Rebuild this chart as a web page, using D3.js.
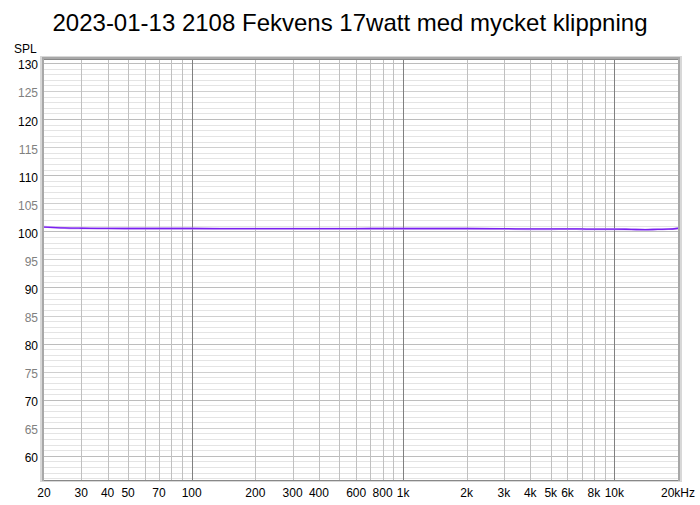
<!DOCTYPE html>
<html><head><meta charset="utf-8">
<script src="https://cdn.jsdelivr.net/npm/d3@7"></script>
<style>body{margin:0;background:#fff;}svg{display:block;font-family:"Liberation Sans",Arial,sans-serif;}</style>
</head><body>
<script>
const title = "2023-01-13 2108 Fekvens 17watt med mycket klippning";
const freqs = [20,25,30,40,50,70,100,150,200,300,500,700,1000,1500,2000,3000,4000,5000,6000,7000,8000,9000,10000,12000,14000,16000,18000,20000];
const splMain = [100.75,100.6,100.55,100.52,100.5,100.5,100.5,100.48,100.48,100.48,100.48,100.5,100.5,100.5,100.5,100.48,100.42,100.42,100.45,100.42,100.38,100.38,100.4,100.35,100.3,100.35,100.38,100.55];
const splLight = [100.8,100.6,100.55,100.5,100.5,100.5,100.5,100.45,100.45,100.46,100.46,100.48,100.48,100.45,100.45,100.4,100.38,100.38,100.42,100.38,100.35,100.35,100.38,100.32,100.3,100.38,100.4,100.5];
const xTicks = [20,30,40,50,70,100,200,300,400,600,800,1000,2000,3000,4000,5000,6000,8000,10000,20000];
const xTickLabels = ["20","30","40","50","70","100","200","300","400","600","800","1k","2k","3k","4k","5k","6k","8k","10k","20kHz"];
const yTicks = [60,65,70,75,80,85,90,95,100,105,110,115,120,125,130];

const W=700,H=505;
const L=44,R=678,T=59,B=480;
const svg=d3.select("body").append("svg").attr("width",W).attr("height",H);
const x=d3.scaleLog().domain([20,20000]).range([L,R]);
const y=d3.scaleLinear().domain([55.7,130.7]).range([B,T]);

svg.append("text").attr("x",350).attr("y",31).attr("text-anchor","middle")
  .attr("font-size",24).attr("fill","#000").text(title);
svg.append("text").attr("x",14).attr("y",53).attr("font-size",12).attr("fill","#000").text("SPL");

// frame shadow
svg.append("rect").attr("x",L-4).attr("y",T-3).attr("width",R-L+8).attr("height",B-T+5).attr("fill","#d8d8d8");
svg.append("rect").attr("x",L-2).attr("y",T-2).attr("width",R-L+4).attr("height",B-T+3).attr("fill","#a8a8a8");
svg.append("rect").attr("x",L).attr("y",T).attr("width",R-L).attr("height",B-T).attr("fill","#fff");

const g=svg.append("g");
// horizontal grid every 1 dB
const hLines=d3.range(56,131,1);
g.selectAll("line.h").data(hLines).enter().append("line")
  .attr("x1",L).attr("x2",R).attr("y1",d=>Math.round(y(d))+0.5).attr("y2",d=>Math.round(y(d))+0.5)
  .attr("stroke",d=>d%10===0?"#bdbdbd":(d%5===0?"#cfcfcf":"#e4e4e4")).attr("stroke-width",1);
// vertical grid
const vLines=[];
[10,100,1000,10000].forEach(dec=>{for(let k=1;k<10;k++){const f=dec*k;if(f>20&&f<20000)vLines.push(f);}});
g.selectAll("line.v").data(vLines).enter().append("line")
  .attr("y1",T).attr("y2",B).attr("x1",d=>Math.round(x(d))+0.5).attr("x2",d=>Math.round(x(d))+0.5)
  .attr("stroke",d=>[100,1000,10000].includes(d)?"#808080":"#c0c0c0").attr("stroke-width",1);
// top/bottom borders
svg.append("line").attr("x1",L).attr("x2",R).attr("y1",T+0.5).attr("y2",T+0.5).attr("stroke","#888");
svg.append("line").attr("x1",L).attr("x2",R).attr("y1",B+0.5).attr("y2",B+0.5).attr("stroke","#888");

// series
const line=d3.line().x(d=>x(d[0])).y(d=>y(d[1])).curve(d3.curveMonotoneX);
svg.append("path").datum(freqs.map((f,i)=>[f,splLight[i]])).attr("d",line)
  .attr("fill","none").attr("stroke","#c49cf5").attr("stroke-width",2);
svg.append("path").datum(freqs.map((f,i)=>[f,splMain[i]])).attr("d",line)
  .attr("fill","none").attr("stroke","#7a20f0").attr("stroke-width",1.3);

// y labels
svg.selectAll("text.yl").data(yTicks).enter().append("text")
  .attr("x",38).attr("y",d=>y(d)+6.5).attr("text-anchor","end").attr("font-size",12)
  .attr("fill",d=>d%10===0?"#000":"#808080").text(d=>d);
// x labels
svg.selectAll("text.xl").data(xTicks).enter().append("text")
  .attr("x",d=>x(d)).attr("y",497).attr("text-anchor","middle").attr("font-size",12)
  .attr("fill","#000").text((d,i)=>xTickLabels[i]);
</script>
</body></html>
